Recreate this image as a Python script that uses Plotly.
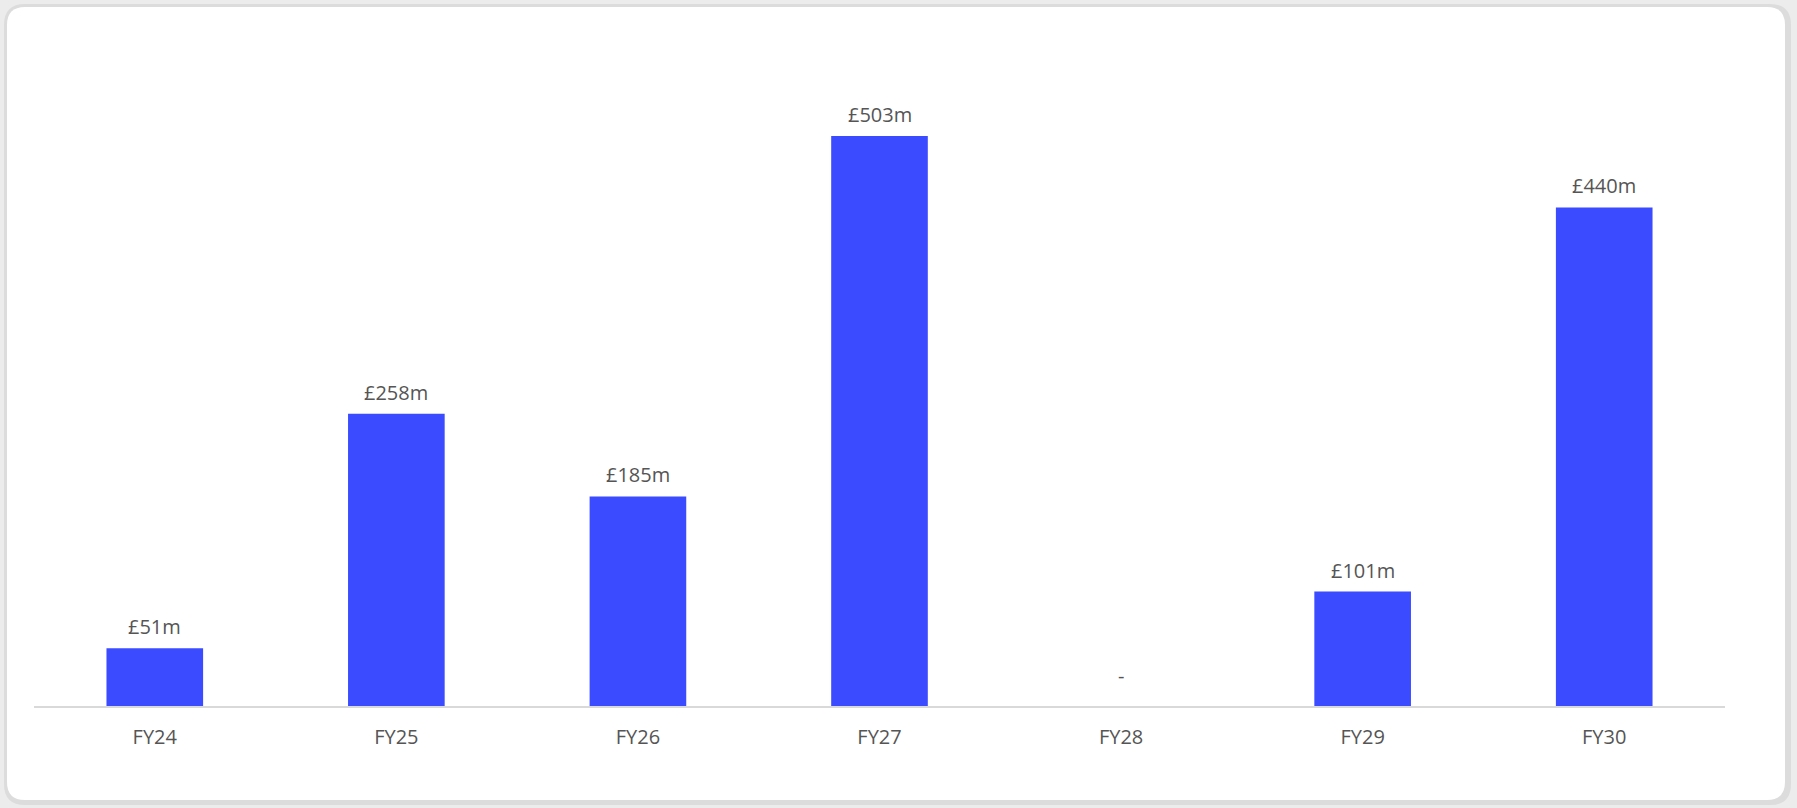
import plotly.graph_objects as go

categories = ["FY24", "FY25", "FY26", "FY27", "FY28", "FY29", "FY30"]
values = [51, 258, 185, 503, 0, 101, 440]
labels = ["£51m", "£258m", "£185m", "£503m", "-", "£101m", "£440m"]

FIG_W, FIG_H = 1797, 808
ML, MR, MT, MB = 34, 72, 60, 102
PW = FIG_W - ML - MR
PH = FIG_H - MT - MB

BAR = "#3B4BFF"
TXT = "#555555"
FONT = "Open Sans, Noto Sans, sans-serif"

fig = go.Figure()
fig.add_trace(go.Bar(
    x=categories, y=values, marker=dict(color=BAR, line=dict(width=0)),
    width=0.4, hoverinfo="skip",
))

for c, v, t in zip(categories, values, labels):
    fig.add_annotation(x=c, y=v, text=t, showarrow=False, yanchor="bottom",
                       yshift=6 if v else 15,
                       font=dict(size=20, color=TXT, family=FONT))


def px2paper(px, py):
    return (px - ML) / PW, ((FIG_H - MB) - py) / PH


def rrect(x0, y0, x1, y1, r):
    rx = r / PW
    ry = r / PH
    a0, b0 = px2paper(x0, y0)
    a1, b1 = px2paper(x1, y1)
    return (f"M {a0+rx},{b0} L {a1-rx},{b0} Q {a1},{b0} {a1},{b0-ry} "
            f"L {a1},{b1+ry} Q {a1},{b1} {a1-rx},{b1} L {a0+rx},{b1} "
            f"Q {a0},{b1} {a0},{b1+ry} L {a0},{b0-ry} Q {a0},{b0} {a0+rx},{b0} Z")


fig.add_shape(type="path", xref="paper", yref="paper", layer="below",
              path=rrect(4, 4, 1791, 805, 21), fillcolor="#dcdcdc",
              line=dict(width=0))
fig.add_shape(type="path", xref="paper", yref="paper", layer="below",
              path=rrect(7, 7, 1785, 800, 18), fillcolor="#ffffff",
              line=dict(width=0))

fig.update_layout(
    width=FIG_W, height=FIG_H,
    margin=dict(l=ML, r=MR, t=MT, b=MB),
    paper_bgcolor="#ececec", plot_bgcolor="rgba(0,0,0,0)",
    showlegend=False, bargap=0.6,
    font=dict(family=FONT, color=TXT, size=20),
    xaxis=dict(showline=True, linecolor="#d9d9d9", linewidth=2,
               showgrid=False, zeroline=False, ticks="",
               ticklabelstandoff=12,
               tickfont=dict(size=20, color=TXT, family=FONT),
               fixedrange=True),
    yaxis=dict(range=[0, PH / 1.133], showgrid=False, zeroline=False,
               showticklabels=False, showline=False, fixedrange=True),
)

fig.write_html("out.html", config={"displayModeBar": False},
               post_script="document.body.style.margin='0';document.body.style.background='#ececec';")
